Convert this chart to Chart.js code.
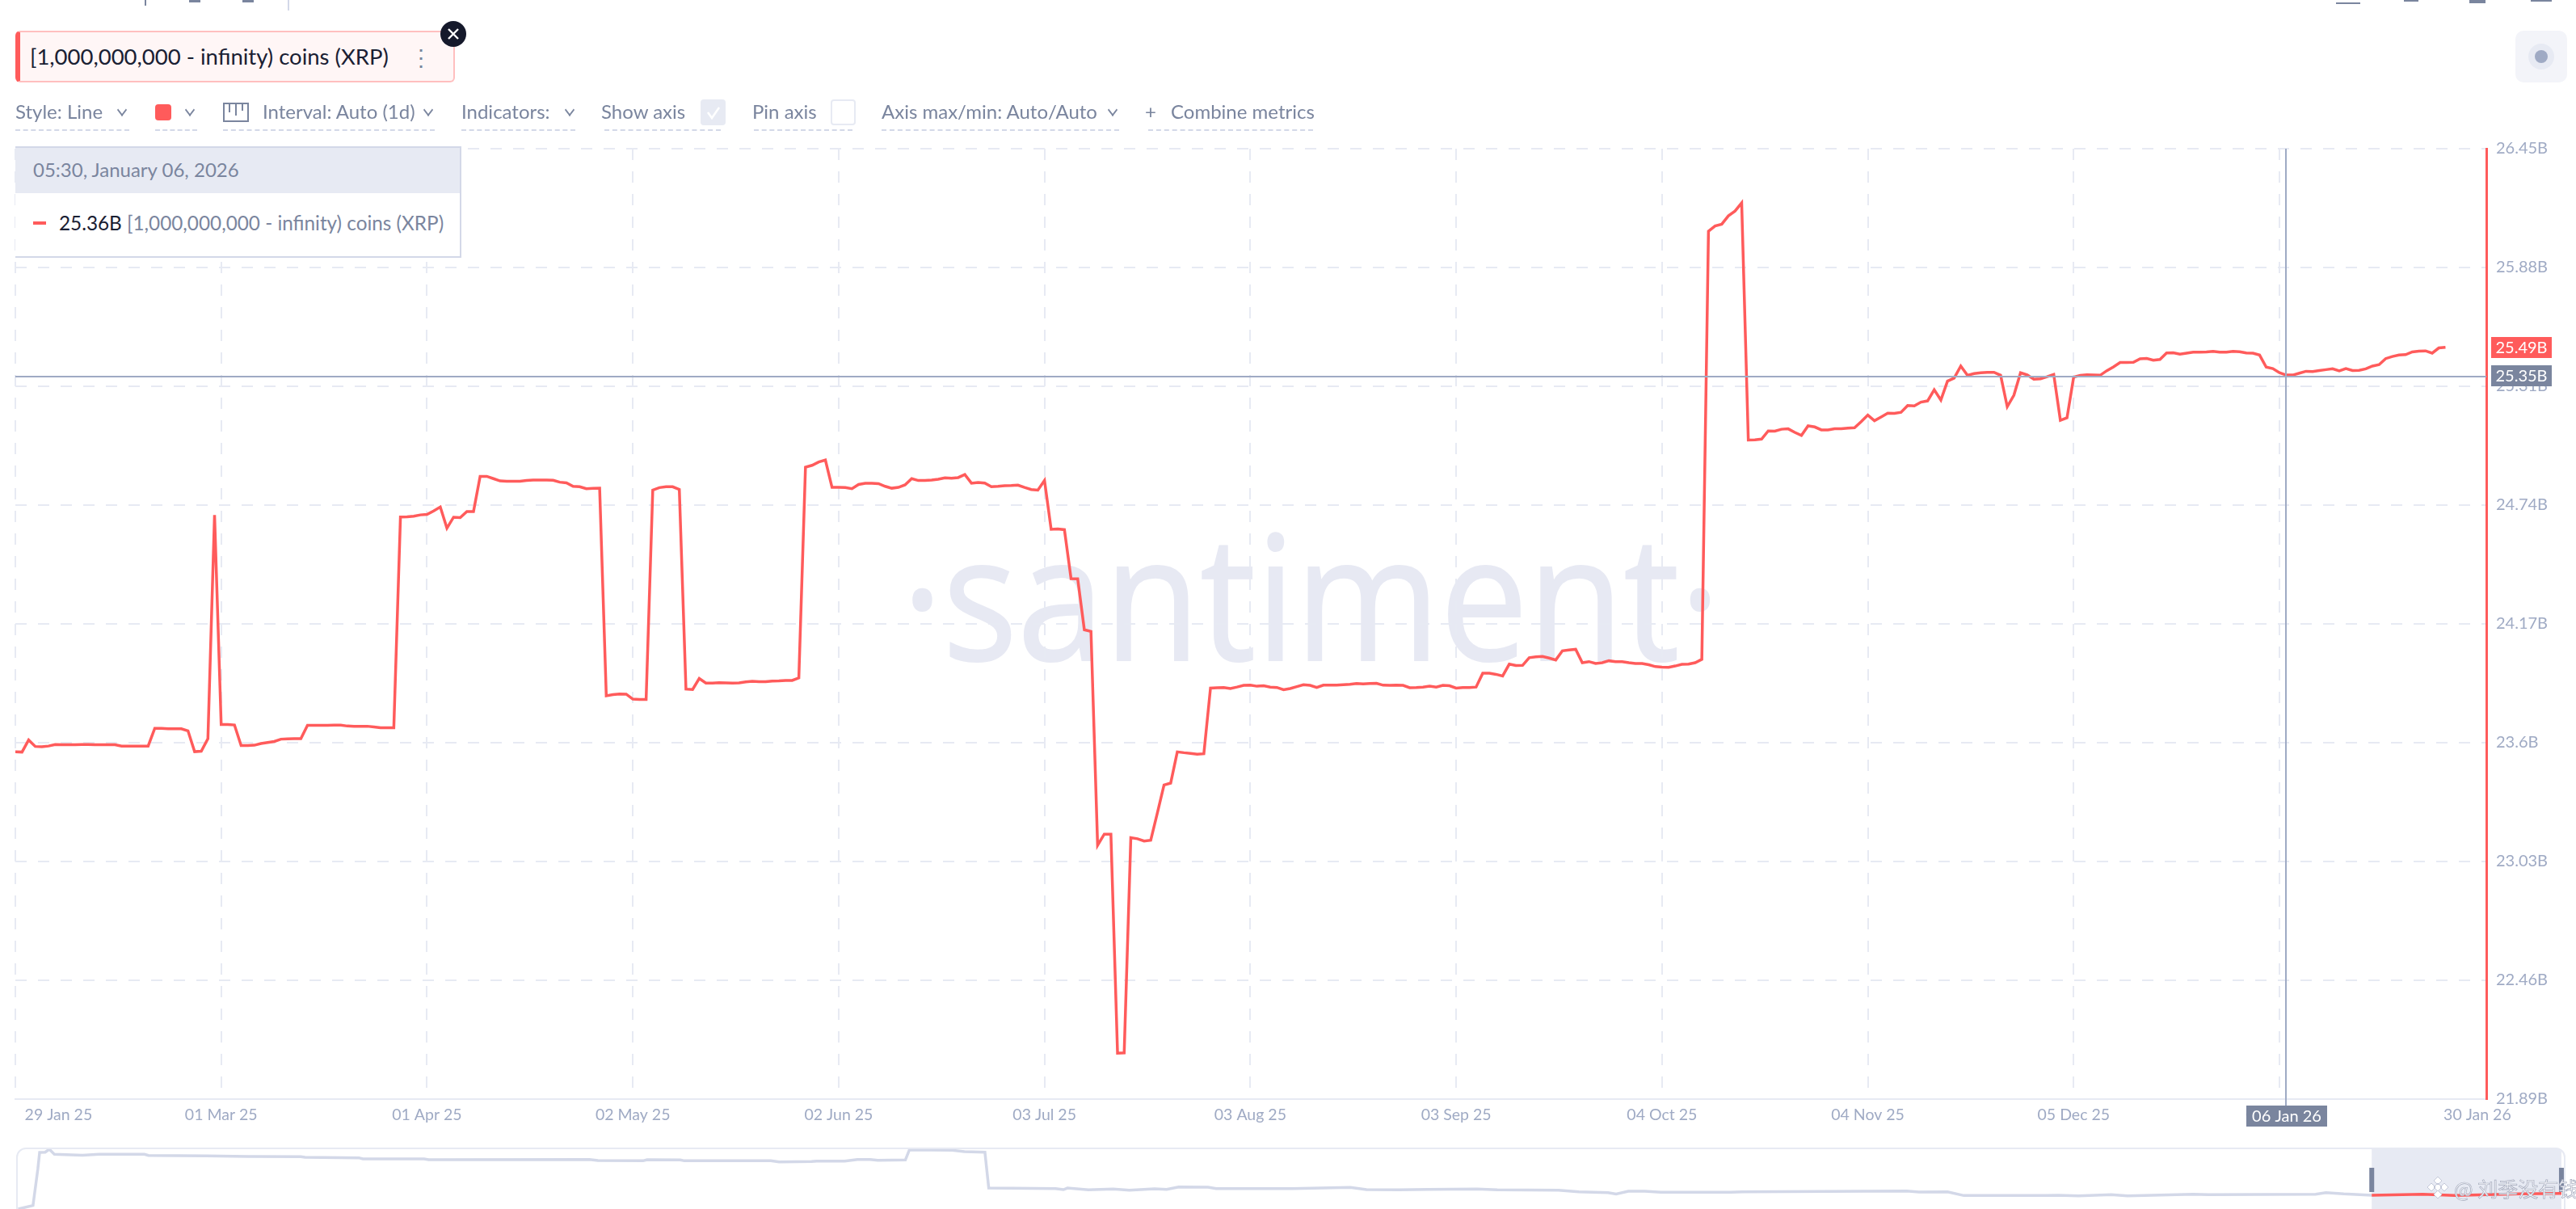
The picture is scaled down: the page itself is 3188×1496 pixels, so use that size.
<!DOCTYPE html>
<html>
<head>
<meta charset="utf-8">
<title>[1,000,000,000 - infinity) coins (XRP)</title>
<script src="https://cdn.jsdelivr.net/npm/chart.js@4"></script>
<style>
  html, body { margin: 0; padding: 0; background: #fff; }
  body { position: relative; width: 3188px; height: 1496px; overflow: hidden; font-family: Lato, sans-serif; color: #7a859e; }
  .abs { position: absolute; white-space: nowrap; }
  canvas { position: absolute; }
  #watermark { left: 1116px; top: 584px; font: 400 215px/300px "Open Sans", sans-serif; color: #e7e9f3; -webkit-text-stroke: 2px #e7e9f3; transform: scaleX(.9); transform-origin: left top; }
  #metric { left: 19px; top: 38px; width: 536px; height: 60px; background: #fff6f6; border: 2px solid #ffbfbf; border-left: 6px solid #ff5b5b; border-radius: 6px; }
  #metric-name { left: 37px; top: 53px; font-size: 27.5px; line-height: 34px; color: #1a2033; }
  #metric-dots { left: 507px; top: 50px; font-size: 28px; line-height: 40px; color: #7a859e; }
  .item { top: 122px; font-size: 24px; line-height: 32px; }
  .under { top: 160px; height: 0; border-top: 2px dashed #d3d8e8; }
  .chev { top: 131px; width: 8px; height: 8px; border-right: 2px solid #7a859e; border-bottom: 2px solid #7a859e; transform: rotate(45deg) skew(8deg, 8deg); }
  #tip { left: 19px; top: 181px; width: 550px; height: 134px; background: #fff; border: 2px solid #d3d8e8; border-left: 0; }
  #tip-head { left: 19px; top: 183px; width: 550px; height: 56px; background: #e7eaf3; }
  #corner-btn { left: 3113px; top: 38px; width: 64px; height: 64px; background: #f3f4f9; border-radius: 10px; }
  #corner-ring { left: 3129px; top: 54px; width: 32px; height: 32px; background: #e7eaf3; border-radius: 50%; }
  #corner-dot { left: 3137px; top: 62px; width: 16px; height: 16px; background: #9faac4; border-radius: 50%; }
  #overview-box { left: 20px; top: 1420px; width: 3155px; height: 90px; border: 2px solid #e7eaf3; border-radius: 12px; box-sizing: border-box; }
  .stub { background: #7a859e; }
</style>
</head>
<body>
<div id="watermark" class="abs">·santiment·</div>
<canvas id="main-chart" width="3188" height="1420" style="left:0;top:0"></canvas>
<div id="overview-box" class="abs"></div>
<canvas id="overview-chart" width="3188" height="74" style="left:0;top:1422px"></canvas>

<!-- restos da barra cortada no topo -->
<div class="abs stub" style="left:179px;top:0;width:2px;height:7px"></div>
<div class="abs" style="left:356px;top:0;width:2px;height:13px;background:#d3d8e8"></div>
<div class="abs stub" style="left:234px;top:0;width:14px;height:3px"></div>
<div class="abs stub" style="left:300px;top:0;width:14px;height:3px"></div>
<div class="abs stub" style="left:2891px;top:3px;width:30px;height:2px"></div>
<div class="abs stub" style="left:2975px;top:0;width:18px;height:2px"></div>
<div class="abs stub" style="left:3056px;top:0;width:20px;height:4px"></div>
<div class="abs stub" style="left:3132px;top:0;width:26px;height:2px"></div>

<div id="metric" class="abs"></div>
<div id="metric-name" class="abs">[1,000,000,000 - infinity) coins (XRP)</div>
<div id="metric-dots" class="abs">⋮</div>
<svg class="abs" style="left:545px;top:26px" width="32" height="32">
  <circle cx="16" cy="16" r="16" fill="#15192b"/>
  <path d="M10 10 L22 22 M22 10 L10 22" stroke="#fff" stroke-width="2.4" fill="none"/>
</svg>

<div class="abs item" style="left:19px">Style: Line</div>
<div class="abs chev" style="left:146px"></div>
<div class="abs under" style="left:19px;width:141px"></div>
<div class="abs" style="left:192px;top:129px;width:20px;height:20px;background:#ff5b5b;border-radius:4px"></div>
<div class="abs chev" style="left:230px"></div>
<div class="abs under" style="left:192px;width:52px"></div>
<svg class="abs" style="left:276px;top:127px" width="32" height="24">
  <path d="M1 23 V1 H31 V23 Z" fill="none" stroke="#7a859e" stroke-width="2"/>
  <path d="M8 1 V12 M16 1 V16 M24 1 V10" stroke="#7a859e" stroke-width="2"/>
</svg>
<div class="abs item" style="left:325px">Interval: Auto (1d)</div>
<div class="abs chev" style="left:525px"></div>
<div class="abs under" style="left:276px;width:262px"></div>
<div class="abs item" style="left:571px">Indicators:</div>
<div class="abs chev" style="left:700px"></div>
<div class="abs under" style="left:571px;width:141px"></div>
<div class="abs item" style="left:744px">Show axis</div>
<div class="abs" style="left:867px;top:123px;width:31px;height:32px;background:#e7eaf3;border-radius:4px"></div>
<svg class="abs" style="left:867px;top:123px" width="31" height="32"><path d="M9 16 L14 23 L23 10" stroke="#fff" stroke-width="2.5" fill="none"/></svg>
<div class="abs under" style="left:748px;width:144px"></div>
<div class="abs item" style="left:931px">Pin axis</div>
<div class="abs" style="left:1028px;top:123px;width:27px;height:28px;border:2px solid #e7eaf3;border-radius:4px"></div>
<div class="abs under" style="left:933px;width:122px"></div>
<div class="abs item" style="left:1091px">Axis max/min: Auto/Auto</div>
<div class="abs chev" style="left:1372px"></div>
<div class="abs under" style="left:1091px;width:294px"></div>
<div class="abs item" style="left:1417px">+</div>
<div class="abs item" style="left:1449px">Combine metrics</div>
<div class="abs under" style="left:1421px;width:204px"></div>

<div id="tip" class="abs"></div>
<div id="tip-head" class="abs"></div>
<div class="abs" style="left:41px;top:194px;font-size:24px;line-height:32px">05:30, January 06, 2026</div>
<div class="abs" style="left:41px;top:274px;width:16px;height:4px;background:#ff5b5b"></div>
<div class="abs" style="left:73px;top:260px;font-size:24.3px;line-height:32px"><span style="color:#1a2033">25.36B</span> [1,000,000,000 - infinity) coins (XRP)</div>

<div id="corner-btn" class="abs"></div>
<div id="corner-ring" class="abs"></div>
<div id="corner-dot" class="abs"></div>

<svg class="abs" style="left:3003px;top:1455px" width="28" height="30">
  <path d="M14 1 L19 6 L14 11 L9 6 Z M6 9 L11 14 L6 19 L1 14 Z M22 9 L27 14 L22 19 L17 14 Z M14 9 L19 14 L14 19 L9 14 Z M14 18 L19 23 L14 28 L9 23 Z" fill="#fff" stroke="#c3c8d8" stroke-width="1"/>
</svg>
<div class="abs" style="left:3037px;top:1454px;font:25px/32px 'Noto Sans CJK SC';color:#f4f5f9;-webkit-text-stroke:.7px #a5abbd">@ 刘季没有钱</div>

<script>
// Eixos
const tickDays = [0, 6.5, 31, 62, 93, 124, 155, 186, 217, 248, 279, 310, 341, 370.8];
const tickDates = ['', '29 Jan 25', '01 Mar 25', '01 Apr 25', '02 May 25', '02 Jun 25', '03 Jul 25', '03 Aug 25', '03 Sep 25', '04 Oct 25', '04 Nov 25', '05 Dec 25', '05 Jan 26', '30 Jan 26'];
const tickValues = [21.89, 22.46, 23.03, 23.6, 24.17, 24.74, 25.31, 25.88, 26.45];
const tickTexts = ['21.89B', '22.46B', '23.03B', '23.6B', '24.17B', '24.74B', '25.31B', '25.88B', '26.45B'];

// Saldo diário em bilhões, 29 Jan 25 até 30 Jan 26
const coinsB = [
  23.556, 23.555, 23.613, 23.582, 23.581, 23.584, 23.591, 23.590, 23.590, 23.590,
  23.591, 23.591, 23.590, 23.590, 23.590, 23.590, 23.584, 23.584, 23.584, 23.584,
  23.584, 23.669, 23.669, 23.667, 23.667, 23.667, 23.657, 23.557, 23.559, 23.619,
  24.692, 23.687, 23.687, 23.685, 23.586, 23.586, 23.588, 23.596, 23.601, 23.606,
  23.617, 23.618, 23.619, 23.619, 23.683, 23.683, 23.683, 23.683, 23.684, 23.684,
  23.680, 23.679, 23.679, 23.679, 23.676, 23.672, 23.672, 23.672, 24.683, 24.684,
  24.687, 24.693, 24.695, 24.712, 24.731, 24.629, 24.682, 24.680, 24.709, 24.709,
  24.878, 24.878, 24.867, 24.856, 24.854, 24.854, 24.854, 24.858, 24.860, 24.860,
  24.860, 24.859, 24.850, 24.847, 24.830, 24.828, 24.819, 24.820, 24.821, 23.825,
  23.831, 23.834, 23.833, 23.809, 23.807, 23.807, 24.812, 24.824, 24.828, 24.828,
  24.815, 23.857, 23.855, 23.908, 23.886, 23.886, 23.888, 23.887, 23.886, 23.887,
  23.892, 23.895, 23.893, 23.893, 23.896, 23.897, 23.899, 23.899, 23.911, 24.922,
  24.931, 24.947, 24.956, 24.825, 24.825, 24.824, 24.819, 24.839, 24.845, 24.845,
  24.843, 24.830, 24.821, 24.825, 24.837, 24.867, 24.858, 24.858, 24.860, 24.864,
  24.871, 24.869, 24.872, 24.887, 24.845, 24.849, 24.846, 24.828, 24.830, 24.833,
  24.834, 24.836, 24.825, 24.815, 24.812, 24.858, 24.624, 24.626, 24.622, 24.387,
  24.386, 24.142, 24.134, 23.108, 23.161, 23.161, 22.110, 22.112, 23.144, 23.139,
  23.128, 23.132, 23.263, 23.397, 23.406, 23.556, 23.552, 23.549, 23.545, 23.547,
  23.862, 23.864, 23.865, 23.860, 23.867, 23.875, 23.876, 23.871, 23.873, 23.867,
  23.865, 23.854, 23.860, 23.869, 23.878, 23.875, 23.865, 23.876, 23.876, 23.876,
  23.878, 23.880, 23.884, 23.882, 23.884, 23.885, 23.876, 23.875, 23.876, 23.875,
  23.864, 23.865, 23.867, 23.871, 23.867, 23.875, 23.873, 23.862, 23.865, 23.865,
  23.867, 23.933, 23.933, 23.928, 23.920, 23.977, 23.970, 23.971, 24.008, 24.012,
  24.014, 24.006, 23.997, 24.041, 24.045, 24.048, 23.984, 23.989, 23.980, 23.984,
  23.993, 23.989, 23.989, 23.984, 23.980, 23.980, 23.974, 23.965, 23.963, 23.962,
  23.968, 23.976, 23.977, 23.984, 24.000, 26.054, 26.079, 26.088, 26.128, 26.151,
  26.190, 25.052, 25.053, 25.057, 25.096, 25.095, 25.104, 25.106, 25.089, 25.074,
  25.120, 25.115, 25.101, 25.101, 25.106, 25.106, 25.109, 25.111, 25.140, 25.172,
  25.145, 25.163, 25.181, 25.180, 25.185, 25.218, 25.216, 25.234, 25.240, 25.293,
  25.244, 25.335, 25.349, 25.407, 25.363, 25.371, 25.375, 25.377, 25.377, 25.363,
  25.212, 25.267, 25.375, 25.365, 25.344, 25.346, 25.356, 25.367, 25.147, 25.159,
  25.354, 25.362, 25.365, 25.364, 25.363, 25.385, 25.403, 25.424, 25.424, 25.425,
  25.442, 25.444, 25.435, 25.439, 25.470, 25.471, 25.464, 25.469, 25.474, 25.474,
  25.475, 25.478, 25.474, 25.474, 25.478, 25.476, 25.470, 25.469, 25.460, 25.402,
  25.395, 25.375, 25.364, 25.364, 25.373, 25.382, 25.381, 25.386, 25.390, 25.394,
  25.384, 25.395, 25.386, 25.387, 25.394, 25.407, 25.414, 25.443, 25.453, 25.460,
  25.462, 25.475, 25.479, 25.480, 25.469, 25.494, 25.497
];

// Mira
const crossDay = 342;
const crossValue = 25.356;
const crossText = '25.35B';
const crossDate = '06 Jan 26';
const lastValue = 25.497;
const lastText = '25.49B';

// Navegador (histórico inteiro, em % da faixa)
const overviewPos = [
  0.08, 0.66, 0.85, 0.92, 1.14, 1.30, 1.5, 2.6, 3.25, 5.03, 5.19, 7.45, 9.07, 11.17, 11.33, 13.44, 13.6, 16.0, 16.18,
  22.49, 22.82, 24.59, 24.75, 26.05, 26.21, 29.6, 29.93, 31.2, 31.4, 32.5, 33.0, 33.5, 33.8, 34.88, 35.04, 36.72, 37.2,
  38.0, 38.15, 40.77, 41.08, 41.24, 42.06, 43.03, 43.67, 44.65, 45.13, 45.6, 46.75, 47.07, 50.08, 52.33, 52.97, 54.25,
  55.38, 57.3, 58.1, 60.5, 61.3, 62.44, 62.76, 63.24, 63.88, 64.52, 67.25, 67.73, 74.16, 74.64, 75.76, 76.4, 79.6, 80.1,
  80.9, 82.18, 82.82, 85.4, 86, 90.2, 90.6, 91.3, 92.4, 94.4, 95.66, 98.2, 99.84
];
const overviewVal = [
  0, 5.9, 66.7, 94.6, 95, 100, 91.4, 90, 91.4, 91.4, 89.6, 88.7, 87.8, 87.4, 86.5, 85.6, 83.8, 83.8, 82.4,
  82.9, 81.1, 80.6, 82.4, 82, 80.6, 80.6, 78.8, 79.3, 80.2, 80.2, 82.9, 82.9, 81.5, 82, 99.1, 98.2, 95.9,
  95, 35.1, 34.2, 32.4, 35.1, 32, 33.3, 31.5, 33.8, 32.9, 36.9, 36.5, 34.2, 34.2, 36, 32.4, 32,
  32.9, 33.3, 32, 31.5, 28.8, 27.5, 25.2, 29.7, 29.7, 27.9, 27.9, 28.8, 30.2, 28.4, 28.8, 22.5, 22.5, 23,
  22, 23.9, 22, 24.8, 23.9, 24.8, 27.5, 25.2, 23, 24.8, 22.5, 25.2, 26
];
const overviewRange = [92.4, 99.84];

const RED = '#ff5b5b';
const GRID = '#e7eaf3';
const AXIS_TEXT = '#9faac4';
const TAG = '#7a859e';
const FONT = 'Lato, sans-serif';

function drawTag(ctx, x, y, w, h, color, text) {
    ctx.fillStyle = color;
    ctx.fillRect(x, y, w, h);
    ctx.fillStyle = '#fff';
    ctx.font = '20px ' + FONT;
    ctx.textAlign = 'center';
    ctx.textBaseline = 'middle';
    ctx.fillText(text, x + w / 2, y + h / 2 + 1);
}

// Mira, etiquetas de preço e eixo vermelho
const crosshair = {
    id: 'crosshair',
    afterDraw(chart) {
        const { ctx, chartArea, scales } = chart;
        const cx = Math.round(scales.x.getPixelForValue(crossDay));
        const cy = Math.round(scales.y.getPixelForValue(crossValue));
        const ly = Math.round(scales.y.getPixelForValue(lastValue));
        ctx.save();
        ctx.strokeStyle = AXIS_TEXT;
        ctx.lineWidth = 2;
        ctx.beginPath();
        ctx.moveTo(cx, chartArea.top);
        ctx.lineTo(cx, chartArea.bottom + 8);
        ctx.moveTo(chartArea.left, cy);
        ctx.lineTo(chartArea.right, cy);
        ctx.stroke();
        drawTag(ctx, chartArea.right + 6, ly - 13, 75, 26, RED, lastText);
        drawTag(ctx, chartArea.right + 6, cy - 14, 75, 26, TAG, crossText);
        drawTag(ctx, cx - 49, chartArea.bottom + 8, 100, 26, TAG, crossDate);
        ctx.restore();
    }
};

Chart.defaults.font.family = FONT;

const mainChart = document.getElementById('main-chart');
new Chart(mainChart, {
    type: 'line',
    data: {
        datasets: [{
            label: '[1,000,000,000 - infinity) coins (XRP)',
            data: coinsB.map((v, i) => ({ x: i, y: v })),
            borderColor: RED,
            borderWidth: 3.5,
            pointRadius: 0,
            tension: 0
        }]
    },
    options: {
        responsive: false,
        animation: false,
        devicePixelRatio: 1,
        layout: { padding: { left: 19, top: 184, right: 0, bottom: 0 } },
        plugins: { legend: { display: false }, tooltip: { enabled: false } },
        scales: {
            x: {
                type: 'linear',
                min: 0,
                max: 372.15,
                afterBuildTicks: (scale) => { scale.ticks = tickDays.map((d) => ({ value: d })); },
                afterFit: (scale) => { scale.height = 60; },
                ticks: {
                    autoSkip: false,
                    maxRotation: 0,
                    padding: 8,
                    color: AXIS_TEXT,
                    font: { size: 19.5 },
                    callback: (value, index) => tickDates[index]
                },
                grid: {
                    drawTicks: false,
                    lineWidth: 2,
                    color: (c) => (c.index === 1 || c.index === tickDays.length - 1) ? 'transparent' : GRID
                },
                border: { display: true, color: GRID, width: 2, dash: [14, 14] }
            },
            y: {
                position: 'right',
                min: 21.89,
                max: 26.45,
                afterBuildTicks: (scale) => { scale.ticks = tickValues.map((v) => ({ value: v })); },
                afterFit: (scale) => { scale.width = 111; },
                ticks: {
                    padding: 12,
                    color: AXIS_TEXT,
                    font: { size: 20 },
                    callback: (value, index) => tickTexts[index]
                },
                grid: { drawTicks: false, lineWidth: 2, color: GRID },
                border: { display: true, color: RED, width: 3, dash: [14, 14] }
            }
        }
    },
    plugins: [crosshair]
});

// Faixa selecionada e alças do navegador
const overviewShade = {
    id: 'overviewShade',
    beforeDatasetsDraw(chart) {
        const { ctx, chartArea, scales } = chart;
        const a = scales.x.getPixelForValue(overviewRange[0]);
        const b = scales.x.getPixelForValue(overviewRange[1]);
        ctx.save();
        ctx.fillStyle = GRID;
        ctx.fillRect(a, chartArea.top, b - a, chartArea.bottom - chartArea.top);
        ctx.restore();
    },
    afterDatasetsDraw(chart) {
        const { ctx, scales } = chart;
        ctx.save();
        ctx.fillStyle = TAG;
        overviewRange.forEach((r) => ctx.fillRect(scales.x.getPixelForValue(r) - 3, 23, 6, 30));
        ctx.restore();
    }
};

const overviewChart = document.getElementById('overview-chart');
new Chart(overviewChart, {
    type: 'line',
    data: {
        datasets: [{
            data: overviewPos.map((p, i) => ({ x: p, y: overviewVal[i] })),
            borderWidth: 3.5,
            pointRadius: 0,
            tension: 0,
            segment: {
                borderColor: (c) => c.p0.parsed.x >= overviewRange[0] ? RED : '#d3d8e8'
            }
        }]
    },
    options: {
        responsive: false,
        animation: false,
        devicePixelRatio: 1,
        layout: { padding: { left: 20, right: 13, top: 0, bottom: 0 } },
        plugins: { legend: { display: false }, tooltip: { enabled: false } },
        scales: {
            x: { type: 'linear', min: 0, max: 100, display: false },
            y: { min: 0, max: 100, display: false }
        }
    },
    plugins: [overviewShade]
});
</script>
</body>
</html>
